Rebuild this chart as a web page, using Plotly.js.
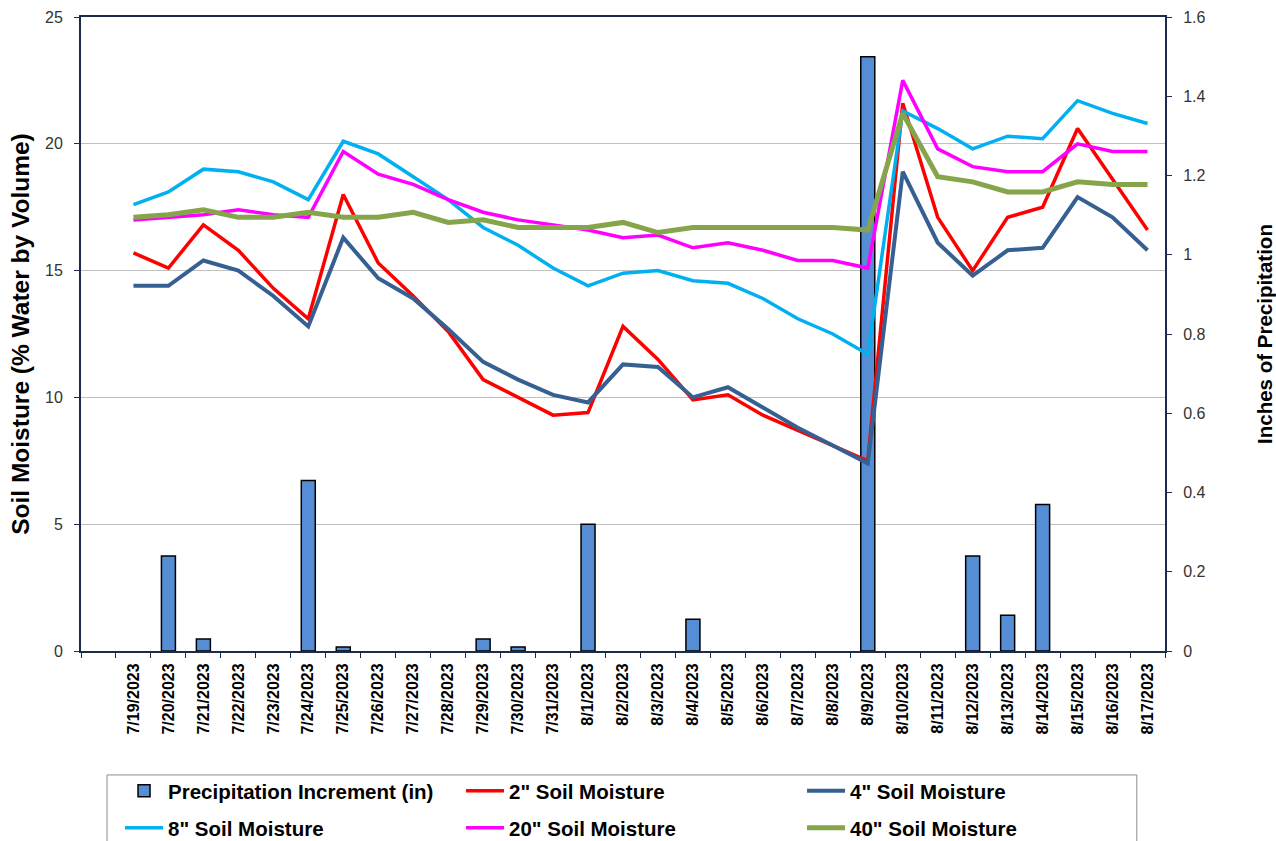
<!DOCTYPE html>
<html>
<head>
<meta charset="utf-8">
<script src="https://cdn.plot.ly/plotly-3.0.1.min.js"></script>
<style>
  html, body { margin: 0; padding: 0; background: #ffffff; }
  #chart { width: 1276px; height: 841px; }
</style>
</head>
<body>
<div id="chart"></div>
<script>
// ---- Data ----
const dates = ['7/19/2023','7/20/2023','7/21/2023','7/22/2023','7/23/2023','7/24/2023','7/25/2023','7/26/2023','7/27/2023','7/28/2023',
               '7/29/2023','7/30/2023','7/31/2023','8/1/2023','8/2/2023','8/3/2023','8/4/2023','8/5/2023','8/6/2023','8/7/2023',
               '8/8/2023','8/9/2023','8/10/2023','8/11/2023','8/12/2023','8/13/2023','8/14/2023','8/15/2023','8/16/2023','8/17/2023'];
// leading empty slot on the category axis (no label, no data)
const axisCategories = [' '].concat(dates);

const precipIn = [0, 0.24, 0.03, 0, 0, 0.43, 0.01, 0, 0, 0,
                  0.03, 0.01, 0, 0.32, 0, 0, 0.08, 0, 0, 0,
                  0, 1.5, 0, 0, 0.24, 0.09, 0.37, 0, 0, 0];
const moist2in = [15.7, 15.1, 16.8, 15.8, 14.3, 13.1, 18.0, 15.3, 14.0, 12.6,
                  10.7, 10.0, 9.3, 9.4, 12.8, 11.5, 9.9, 10.1, 9.3, 8.7,
                  8.1, 7.5, 21.6, 17.1, 15.0, 17.1, 17.5, 20.6, 18.6, 16.6];
const moist4in = [14.4, 14.4, 15.4, 15.0, 14.0, 12.8, 16.3, 14.7, 13.9, 12.7,
                  11.4, 10.7, 10.1, 9.8, 11.3, 11.2, 10.0, 10.4, 9.6, 8.8,
                  8.1, 7.4, 18.9, 16.1, 14.8, 15.8, 15.9, 17.9, 17.1, 15.8];
const moist8in = [17.6, 18.1, 19.0, 18.9, 18.5, 17.8, 20.1, 19.6, 18.7, 17.8,
                  16.7, 16.0, 15.1, 14.4, 14.9, 15.0, 14.6, 14.5, 13.9, 13.1,
                  12.5, 11.7, 21.3, 20.6, 19.8, 20.3, 20.2, 21.7, 21.2, 20.8];
const moist20in = [17.0, 17.1, 17.2, 17.4, 17.2, 17.1, 19.7, 18.8, 18.4, 17.8,
                   17.3, 17.0, 16.8, 16.6, 16.3, 16.4, 15.9, 16.1, 15.8, 15.4,
                   15.4, 15.1, 22.5, 19.8, 19.1, 18.9, 18.9, 20.0, 19.7, 19.7];
const moist40in = [17.1, 17.2, 17.4, 17.1, 17.1, 17.3, 17.1, 17.1, 17.3, 16.9,
                   17.0, 16.7, 16.7, 16.7, 16.9, 16.5, 16.7, 16.7, 16.7, 16.7,
                   16.7, 16.6, 21.2, 18.7, 18.5, 18.1, 18.1, 18.5, 18.4, 18.4];

const seriesNames = ['Precipitation Increment (in)', '2" Soil Moisture', '4" Soil Moisture',
                     '8" Soil Moisture', '20" Soil Moisture', '40" Soil Moisture'];

// ---- Styles ----
const FONT = 'Liberation Sans, Arial, Helvetica, sans-serif';
const AXIS_COLOR = '#1b2b4b';

function lineTrace(y, name, color, width, legend) {
  return {
    type: 'scatter', mode: 'lines', x: dates, y: y, name: name,
    yaxis: 'y2', legend: legend,
    line: { color: color, width: width },
    hoverinfo: 'x+y+name'
  };
}

const traces = [
  {
    type: 'bar', x: dates,
    // days without precipitation draw no bar at all (as in the reference)
    y: precipIn.map(v => (v > 0 ? v : null)),
    name: seriesNames[0], yaxis: 'y', legend: 'legend',
    width: 0.4,
    marker: { color: '#558ED5', line: { color: '#000000', width: 1.5 } }
  },
  lineTrace(moist2in, seriesNames[1], '#FF0000', 3.5, 'legend'),
  lineTrace(moist4in, seriesNames[2], '#376092', 4, 'legend'),
  lineTrace(moist8in, seriesNames[3], '#00B0F0', 3.5, 'legend2'),
  lineTrace(moist20in, seriesNames[4], '#FF00FF', 3.5, 'legend2'),
  lineTrace(moist40in, seriesNames[5], '#86A44A', 5, 'legend2')
];

const legendCommon = {
  orientation: 'h', xanchor: 'left', yanchor: 'middle',
  x: 0.036, bgcolor: 'rgba(0,0,0,0)', borderwidth: 0,
  font: { family: FONT, size: 20.5, color: '#000000', weight: 'bold' },
  entrywidth: 288, entrywidthmode: 'pixels', itemwidth: 38,
  traceorder: 'normal'
};

const layout = {
  width: 1276, height: 841,
  margin: { l: 81, r: 111, t: 17, b: 190, pad: 0, autoexpand: false },
  paper_bgcolor: '#ffffff', plot_bgcolor: '#ffffff',
  font: { family: FONT, color: '#333333' },
  showlegend: true,
  bargap: 0.6,
  xaxis: {
    type: 'category',
    categoryorder: 'array', categoryarray: axisCategories,
    range: [-0.5, axisCategories.length - 0.5],
    tickson: 'boundaries',
    ticks: 'outside', ticklen: 5, tickwidth: 1, tickcolor: AXIS_COLOR,
    tickangle: -90, ticklabelstandoff: 4,
    tickfont: { family: FONT, size: 16, color: '#000000', weight: 'bold' },
    showline: true, linecolor: AXIS_COLOR, linewidth: 2, mirror: true,
    showgrid: false, zeroline: false, fixedrange: true, automargin: false
  },
  yaxis: {
    side: 'right',
    range: [0, 1.6], dtick: 0.2, tick0: 0,
    ticks: 'outside', ticklen: 5, tickwidth: 1, tickcolor: AXIS_COLOR,
    ticklabelstandoff: 8,
    tickfont: { family: FONT, size: 16, color: '#333333' },
    showline: true, linecolor: AXIS_COLOR, linewidth: 2,
    showgrid: false, zeroline: false, automargin: false,
    title: { text: 'Inches of Precipitation', standoff: 53,
             font: { family: FONT, size: 20.5, color: '#000000', weight: 'bold' } }
  },
  yaxis2: {
    overlaying: 'y', side: 'left',
    range: [0, 25], dtick: 5, tick0: 0,
    ticks: 'outside', ticklen: 5, tickwidth: 1, tickcolor: AXIS_COLOR,
    ticklabelstandoff: 8,
    tickfont: { family: FONT, size: 16, color: '#333333' },
    showline: true, linecolor: AXIS_COLOR, linewidth: 2,
    showgrid: true, gridcolor: '#c0c0c0', gridwidth: 1, zeroline: false, automargin: false,
    title: { text: 'Soil Moisture (% Water by Volume)', standoff: 8,
             font: { family: FONT, size: 24.5, color: '#000000', weight: 'bold' } }
  },
  legend: Object.assign({}, legendCommon, { y: -0.2208 }),
  legend2: Object.assign({}, legendCommon, { y: -0.2792 }),
  shapes: [{
    type: 'rect', xref: 'paper', yref: 'paper',
    x0: 0.024, x1: 0.974, y0: -0.1955, y1: -0.40,
    line: { color: '#8c8c8c', width: 1 }, fillcolor: 'rgba(0,0,0,0)', layer: 'below'
  }]
};

Plotly.newPlot('chart', traces, layout, { displayModeBar: false, staticPlot: true });
</script>
</body>
</html>
